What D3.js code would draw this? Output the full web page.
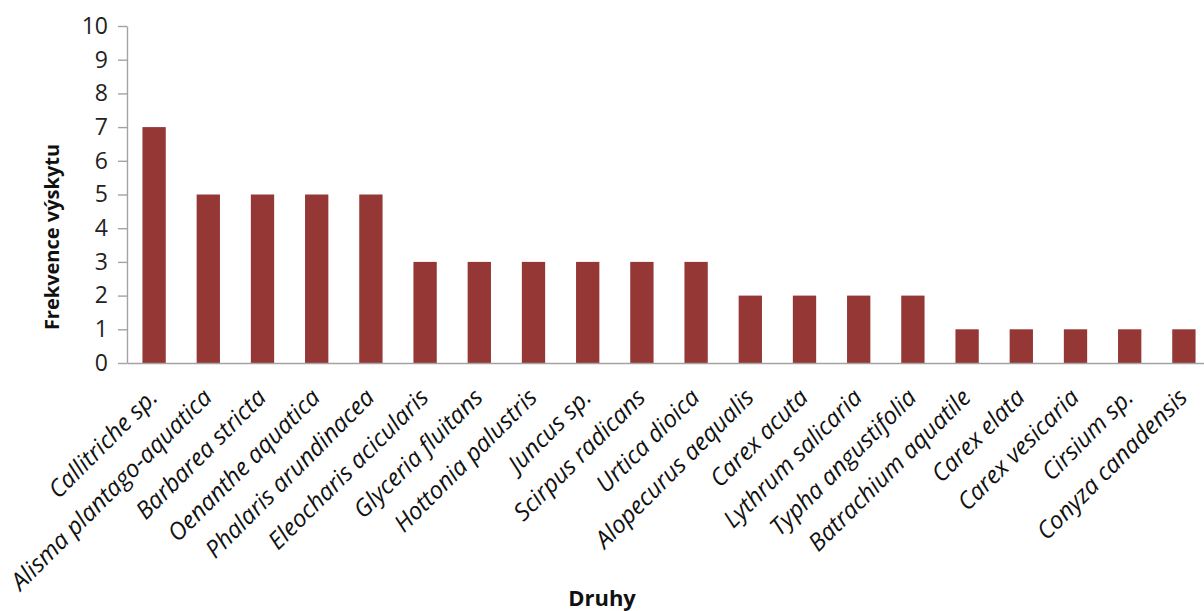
<!DOCTYPE html>
<html>
<head>
<meta charset="utf-8">
<script src="https://cdn.jsdelivr.net/npm/d3@7"></script>
<style>
  html, body { margin: 0; padding: 0; background: #fff; }
  svg { display: block; }
</style>
</head>
<body>
<svg id="chart" width="1204" height="611"></svg>
<script>
// Plant species and how often each was recorded
const species = [
  "Callitriche sp.", "Alisma plantago-aquatica", "Barbarea stricta", "Oenanthe aquatica",
  "Phalaris arundinacea", "Eleocharis acicularis", "Glyceria fluitans", "Hottonia palustris",
  "Juncus sp.", "Scirpus radicans", "Urtica dioica", "Alopecurus aequalis", "Carex acuta",
  "Lythrum salicaria", "Typha angustifolia", "Batrachium aquatile", "Carex elata",
  "Carex vesicaria", "Cirsium sp.", "Conyza canadensis"
];
const frequency = [7, 5, 5, 5, 5, 3, 3, 3, 3, 3, 3, 2, 2, 2, 2, 1, 1, 1, 1, 1];
const yTicks = [0, 1, 2, 3, 4, 5, 6, 7, 8, 9, 10];

const svg = d3.select("#chart");
const plot = { left: 127, right: 1211, top: 26, bottom: 363 };
const fontFamily = "'Open Sans', Lato, sans-serif";
const axisColor = "#a3a3a3";

const x = d3.scaleBand().domain(species).range([plot.left, plot.right]).paddingInner(0.57).paddingOuter(0.285);
const y = d3.scaleLinear().domain([0, 10]).range([plot.bottom, plot.top]);

// Bars
svg.append("g").selectAll("rect")
  .data(species.map((s, i) => ({ s, v: frequency[i] })))
  .join("rect")
  .attr("x", d => x(d.s))
  .attr("y", d => y(d.v))
  .attr("width", x.bandwidth())
  .attr("height", d => y(0) - y(d.v))
  .attr("fill", "#953735");

// Y axis
const yAxis = svg.append("g")
  .attr("transform", `translate(${plot.left},0)`)
  .call(d3.axisLeft(y).tickValues(yTicks).tickSize(9).tickSizeOuter(0).tickPadding(10));
yAxis.select(".domain").attr("stroke", axisColor).attr("stroke-width", 1.4);
yAxis.selectAll(".tick line").attr("stroke", axisColor).attr("stroke-width", 1.4);
yAxis.selectAll(".tick text")
  .attr("font-family", fontFamily)
  .attr("font-size", 23)
  .attr("fill", "#222");

// X axis line and rotated species labels
const xAxis = svg.append("g")
  .attr("transform", `translate(0,${plot.bottom})`)
  .call(d3.axisBottom(x).tickSize(0).tickSizeOuter(0));
xAxis.select(".domain").attr("stroke", axisColor).attr("stroke-width", 1.4);
xAxis.selectAll(".tick text")
  .attr("font-family", fontFamily)
  .attr("font-style", "italic")
  .attr("font-size", 24)
  .attr("fill", "#111")
  .attr("text-anchor", "end")
  .attr("dy", null)
  .attr("y", 0)
  .attr("transform", "translate(5,36) rotate(-45)");

// Axis titles
svg.append("text")
  .attr("transform", `translate(59,237) rotate(-90)`)
  .attr("text-anchor", "middle")
  .attr("font-family", fontFamily)
  .attr("font-weight", "bold")
  .attr("font-size", 20)
  .attr("fill", "#111")
  .text("Frekvence výskytu");

svg.append("text")
  .attr("x", 602)
  .attr("y", 606)
  .attr("text-anchor", "middle")
  .attr("font-family", fontFamily)
  .attr("font-weight", "bold")
  .attr("font-size", 22)
  .attr("fill", "#111")
  .text("Druhy");
</script>
</body>
</html>
